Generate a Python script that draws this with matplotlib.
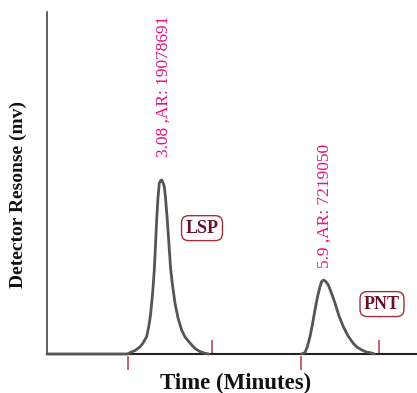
import matplotlib
matplotlib.use("Agg")
import matplotlib.pyplot as plt

# Peak 1 (LSP) trace points: time (min), response (% of full scale)
lsp_time = [1.065, 2.47, 2.519, 2.606, 2.694, 2.747, 2.811, 2.852, 2.878, 2.899,
            2.922, 2.944, 2.966, 2.986, 3.009, 3.032, 3.053, 3.074, 3.097, 3.120,
            3.141, 3.172, 3.202, 3.232, 3.263, 3.307, 3.360, 3.424, 3.482, 3.570,
            3.658, 3.745, 3.833, 3.90]
lsp_resp = [0.0, 0.0, 0.4, 1.0, 2.1, 3.2, 5.1, 8.5, 11.4, 14.9,
            19.3, 24.6, 31.9, 39.2, 45.6, 50.0, 50.6, 50.9, 50.1, 48.9,
            45.6, 39.2, 31.9, 24.6, 20.2, 14.9, 10.5, 7.0, 5.0, 3.2,
            1.6, 0.7, 0.2, 0.0]

# Peak 2 (PNT) trace points
pnt_time = [5.52, 5.584, 5.628, 5.672, 5.716, 5.759, 5.803, 5.847, 5.873, 5.905,
            5.943, 5.992, 6.048, 6.110, 6.180, 6.255, 6.338, 6.430, 6.496, 6.577,
            6.654, 6.723, 6.80]
pnt_resp = [0.0, 0.4, 2.3, 5.1, 8.8, 12.9, 16.7, 19.7, 21.1, 21.6,
            21.3, 20.2, 17.8, 14.9, 11.1, 8.0, 5.3, 3.1, 2.0, 1.2,
            0.6, 0.4, 0.0]

peak_rt = [3.08, 5.9]
peak_area = [19078691, 7219050]
peak_rt_text = ["3.08", "5.9"]
peak_names = ["LSP", "PNT"]

# integration markers: time, direction (-1 below axis, +1 above)
marker_times = [2.484, 3.955, 5.514, 6.881]
marker_dirs = [-1, 1, -1, 1]

fig = plt.figure(figsize=(4.17, 3.93), dpi=100)
ax = fig.add_axes([47/417, 39/393, 370/417, 342/393])
ax.set_xlim(1.065, 7.546)
ax.set_ylim(0, 100)

for s in ["top", "right"]:
    ax.spines[s].set_visible(False)
ax.spines["left"].set_color("#444444")
ax.spines["left"].set_linewidth(1.2)
ax.spines["bottom"].set_color("#222222")
ax.spines["bottom"].set_linewidth(1.5)
ax.set_xticks([])
ax.set_yticks([])

for tt, rr in [(lsp_time, lsp_resp), (pnt_time, pnt_resp)]:
    ax.plot(tt, rr, color="#555555", lw=2.0, solid_capstyle="round",
            solid_joinstyle="round", clip_on=False, zorder=3)

mlen = 4.1
for t, d in zip(marker_times, marker_dirs):
    if d < 0:
        ax.vlines(t, -mlen - 0.6, -0.6, color="#b84a55", lw=1.2, clip_on=False)
    else:
        ax.vlines(t, 0, mlen, color="#b84a55", lw=1.2, clip_on=False)

label_y = [57.6, 25.1]
for rt, rtt, area, ly in zip(peak_rt, peak_rt_text, peak_area, label_y):
    ax.text(rt + 0.02, ly, f"{rtt} ,AR: {area}", rotation=90, ha="center", va="bottom",
            color="#e8127c", fontsize=12.5, family="Liberation Serif")

name_pos = [(3.78, 36.8), (6.933, 14.6)]
for name, (nx, ny) in zip(peak_names, name_pos):
    ax.text(nx, ny, name, ha="center", va="center", color="#6b0f2a", fontsize=13,
            fontweight="bold", family="Liberation Serif",
            bbox=dict(boxstyle="round,pad=0.22,rounding_size=0.4", fc="white", ec="#a0303a", lw=1.0))

fig.text(236/417, 1 - 383/393, "Time (Minutes)", ha="center", va="center",
         fontsize=16.5, fontweight="bold", family="Liberation Serif", color="#111111")
fig.text(18/417, 1 - 195/393, "Detector Resonse (mv)", ha="center", va="center", rotation=90,
         fontsize=14, fontweight="bold", family="Liberation Serif", color="#111111")

fig.savefig("out.png", dpi=100)
